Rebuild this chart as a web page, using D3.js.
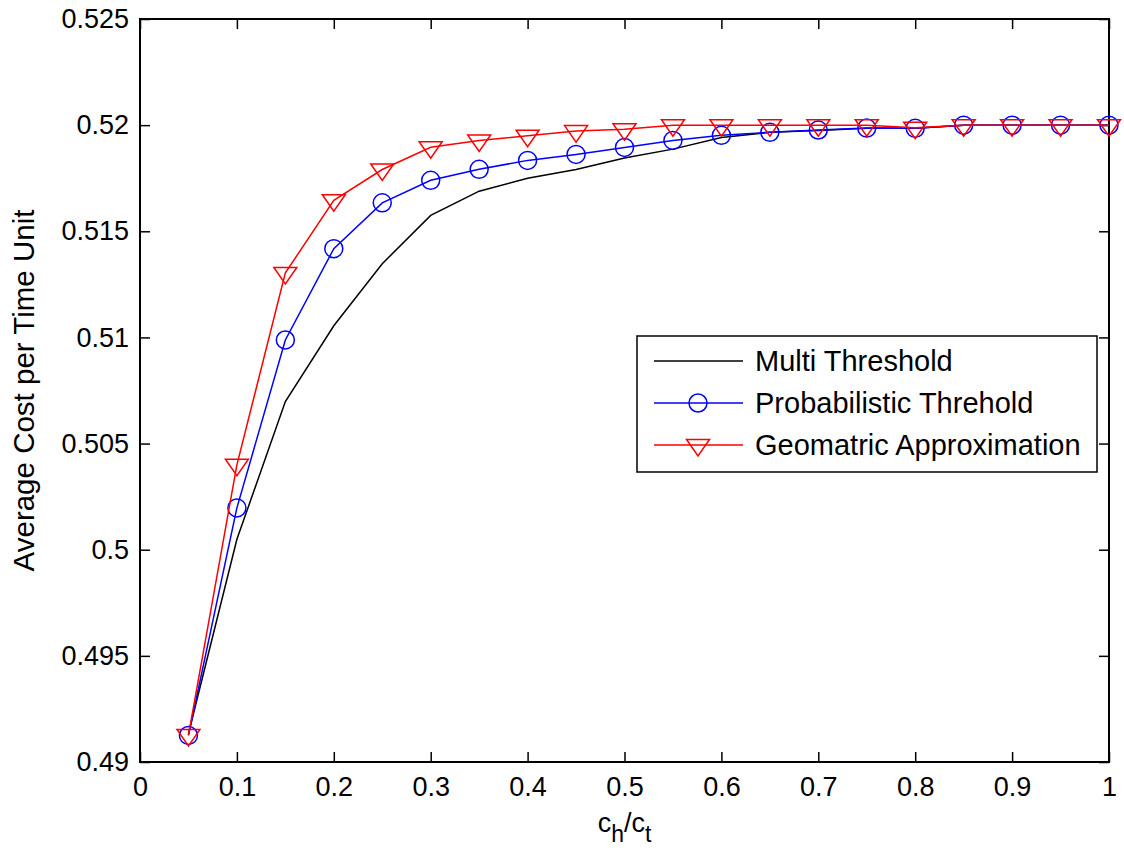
<!DOCTYPE html>
<html>
<head>
<meta charset="utf-8">
<script src="https://cdn.jsdelivr.net/npm/d3@7"></script>
<style>
  body { margin: 0; background: #fff; }
  text { font-family: "Liberation Sans", Arial, Helvetica, sans-serif; fill: #000; }
  .axis .tick line { stroke: #000; stroke-width: 1.5; }
</style>
</head>
<body>
<div class="chart"></div>
<script>
// x values (c_h / c_t)
const ratios = [0.05, 0.1, 0.15, 0.2, 0.25, 0.3, 0.35, 0.4, 0.45, 0.5,
                0.55, 0.6, 0.65, 0.7, 0.75, 0.8, 0.85, 0.9, 0.95, 1];

const multiThreshold = [0.49133, 0.50049, 0.50698, 0.51055, 0.51347, 0.51575, 0.51689, 0.5175, 0.51791, 0.51845,
                        0.51887, 0.51942, 0.51966, 0.51975, 0.51985, 0.51985, 0.52, 0.52, 0.52, 0.52];
const probabilistic = [0.49125, 0.50197, 0.50988, 0.51418, 0.51634, 0.5174, 0.51792, 0.51834, 0.51862, 0.51895,
                       0.51928, 0.51952, 0.51966, 0.51977, 0.51986, 0.51985, 0.52, 0.52, 0.52, 0.52];
const geometric = [0.49127, 0.504, 0.51304, 0.51646, 0.51791, 0.51896, 0.51928, 0.5195, 0.51972, 0.51981,
                   0.52, 0.52, 0.52, 0.52, 0.52, 0.51988, 0.52, 0.52, 0.52, 0.52];

const seriesNames = ["Multi Threshold", "Probabilistic Threhold", "Geomatric Approximation"];

const xTicks = [0, 0.1, 0.2, 0.3, 0.4, 0.5, 0.6, 0.7, 0.8, 0.9, 1];
const yTicks = [0.49, 0.495, 0.5, 0.505, 0.51, 0.515, 0.52, 0.525];

const series = [
  { name: seriesNames[0], values: multiThreshold, color: "#000000", marker: "none" },
  { name: seriesNames[1], values: probabilistic, color: "#0000ff", marker: "circle" },
  { name: seriesNames[2], values: geometric, color: "#ff0000", marker: "triangle" }
];

const width = 1124, height = 852;
const margin = {top: 19, right: 15, bottom: 90, left: 140};
const insideWidth = width - margin.left - margin.right;
const insideHeight = height - margin.top - margin.bottom;

const svg = d3.select(".chart").append("svg")
  .attr("width", width)
  .attr("height", height);

const g = svg.append("g").attr("transform", "translate(" + margin.left + "," + margin.top + ")");

const xScale = d3.scaleLinear().domain([0, 1]).range([0, insideWidth]);
const yScale = d3.scaleLinear().domain([0.49, 0.525]).range([insideHeight, 0]);

// axes, ticks pointing inward
const fmt = d => String(+d.toFixed(3));

g.append("g")
  .attr("class", "axis")
  .attr("transform", "translate(0," + insideHeight + ")")
  .call(d3.axisBottom(xScale).tickValues(xTicks).tickFormat(fmt).tickSizeInner(-10).tickSizeOuter(0).tickPadding(15))
  .call(a => a.select(".domain").remove())
  .selectAll("text").style("font-size", "27px");

g.append("g")
  .attr("class", "axis")
  .call(d3.axisLeft(yScale).tickValues(yTicks).tickFormat(fmt).tickSizeInner(-10).tickSizeOuter(0).tickPadding(11))
  .call(a => a.select(".domain").remove())
  .selectAll("text").style("font-size", "27px");

g.append("g")
  .attr("class", "axis")
  .call(d3.axisTop(xScale).tickValues(xTicks).tickFormat("").tickSizeInner(-10).tickSizeOuter(0))
  .call(a => a.select(".domain").remove());

g.append("g")
  .attr("class", "axis")
  .attr("transform", "translate(" + insideWidth + ",0)")
  .call(d3.axisRight(yScale).tickValues(yTicks).tickFormat("").tickSizeInner(-10).tickSizeOuter(0))
  .call(a => a.select(".domain").remove());

g.append("rect")
  .attr("width", insideWidth)
  .attr("height", insideHeight)
  .attr("fill", "none")
  .attr("stroke", "#000")
  .attr("stroke-width", 2);

// markers
function drawMarker(sel, type, color) {
  if (type === "circle") {
    sel.append("circle").attr("r", 9)
      .attr("fill", "none").attr("stroke", color).attr("stroke-width", 1.5);
  } else if (type === "triangle") {
    sel.append("path").attr("d", "M-11.5,-5.5L11.5,-5.5L0,11Z")
      .attr("fill", "none").attr("stroke", color).attr("stroke-width", 1.5);
  }
}

const line = d3.line()
  .x(d => xScale(d[0]))
  .y(d => yScale(d[1]));

for (const s of series) {
  const pts = ratios.map((r, i) => [r, s.values[i]]);
  g.append("path")
    .datum(pts)
    .attr("fill", "none")
    .attr("stroke", s.color)
    .attr("stroke-width", 1.5)
    .attr("d", line);
  if (s.marker !== "none") {
    g.selectAll(null)
      .data(pts)
      .enter().append("g")
      .attr("transform", d => "translate(" + xScale(d[0]) + "," + yScale(d[1]) + ")")
      .each(function() { drawMarker(d3.select(this), s.marker, s.color); });
  }
}

// axis labels
svg.append("text")
  .attr("transform", "translate(34," + (margin.top + insideHeight / 2) + ") rotate(-90)")
  .attr("text-anchor", "middle")
  .style("font-size", "29.5px")
  .text("Average Cost per Time Unit");

const xl = svg.append("text")
  .attr("x", margin.left + insideWidth / 2)
  .attr("y", 832)
  .attr("text-anchor", "middle")
  .style("font-size", "27px");
xl.append("tspan").text("c");
xl.append("tspan").attr("dy", 10).style("font-size", "23px").text("h");
xl.append("tspan").attr("dy", -10).text("/c");
xl.append("tspan").attr("dy", 10).style("font-size", "23px").text("t");

// legend
const legend = svg.append("g").attr("transform", "translate(637,336)");
legend.append("rect")
  .attr("width", 460)
  .attr("height", 136)
  .attr("fill", "#fff")
  .attr("stroke", "#000")
  .attr("stroke-width", 1.5);

series.forEach((s, i) => {
  const row = legend.append("g").attr("transform", "translate(0," + (25 + i * 42) + ")");
  row.append("line")
    .attr("x1", 17).attr("x2", 106)
    .attr("stroke", s.color).attr("stroke-width", 1.5);
  const m = row.append("g").attr("transform", "translate(61,0)");
  drawMarker(m, s.marker, s.color);
  row.append("text")
    .attr("x", 118)
    .attr("dy", "0.36em")
    .style("font-size", "29px")
    .text(s.name);
});
</script>
</body>
</html>
